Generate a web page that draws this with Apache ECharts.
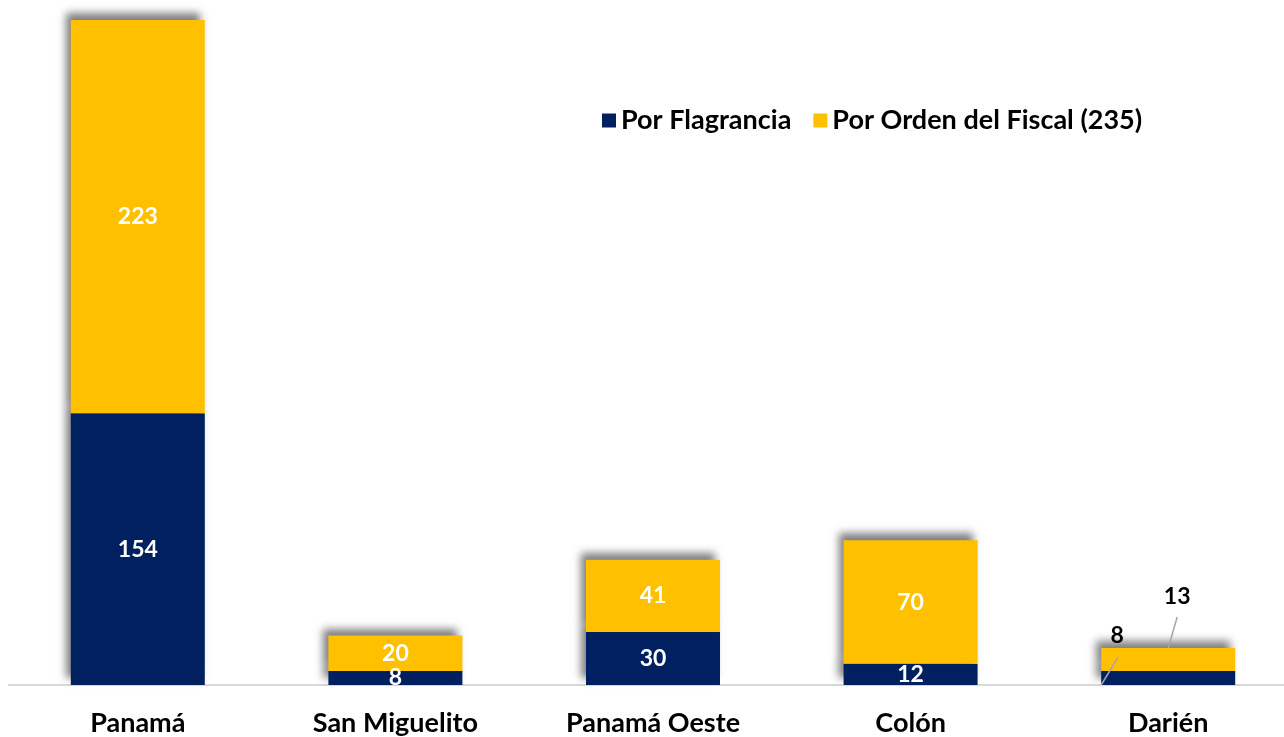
<!DOCTYPE html>
<html><head><meta charset="utf-8">
<script src="https://cdn.jsdelivr.net/npm/echarts@6/dist/echarts.min.js"></script>
<style>html,body{margin:0;padding:0;background:#fff;overflow:hidden}#c{width:1300px;height:737px}</style>
</head><body><div id="c"></div>
<script>
const categories = ['Panamá', 'San Miguelito', 'Panamá Oeste', 'Colón', 'Darién'];
const flagrancia = [154, 8, 30, 12, 8];
const ordenFiscal = [223, 20, 41, 70, 13];
const seriesNames = ['Por Flagrancia', 'Por Orden del Fiscal (235)'];

const FONT = 'Lato, "Open Sans", sans-serif';
const BAR_W = 134;
const chart = echarts.init(document.getElementById('c'));
const shadow = {shadowColor: 'rgba(0,0,0,0.5)', shadowBlur: 8, shadowOffsetX: -5, shadowOffsetY: -7};
const outsideIdx = 4;
function mk(vals) {
  return vals.map((v, i) => i !== outsideIdx ? v : {value: v, label: {color: '#000'}});
}
const lineStyle = {stroke: '#a6a6a6', lineWidth: 1.5};
chart.setOption({
  animation: false,
  legend: {
    left: 597, top: 102, itemWidth: 14, itemHeight: 14, itemGap: 22,
    icon: 'rect',
    textStyle: {fontFamily: FONT, fontWeight: 'bold', fontSize: 27, color: '#000'},
    data: seriesNames
  },
  grid: {left: 9, width: 1288, top: 20, bottom: 52, containLabel: false},
  xAxis: {
    type: 'category', data: categories,
    axisLine: {lineStyle: {color: '#d9d9d9', width: 2}},
    axisTick: {show: false},
    axisLabel: {fontFamily: FONT, fontWeight: 'bold', fontSize: 27, color: '#000', margin: 25}
  },
  yAxis: {type: 'value', min: 0, max: 377, show: false, splitLine: {show: false}},
  series: [
    {
      name: seriesNames[0], type: 'bar', stack: 't', barWidth: BAR_W,
      itemStyle: Object.assign({color: '#002060'}, shadow),
      label: {show: true, position: 'inside', color: '#fff', fontFamily: FONT, fontWeight: 'bold', fontSize: 23},
      labelLayout: function (p) {
        if (p.dataIndex !== outsideIdx) return {};
        const r = p.rect;
        return {x: r.x + 16, y: r.y - 35, align: 'center', verticalAlign: 'middle'};
      },
      data: mk(flagrancia)
    },
    {
      name: seriesNames[1], type: 'bar', stack: 't', barWidth: BAR_W,
      itemStyle: Object.assign({color: '#FFC000'}, shadow),
      label: {show: true, position: 'inside', color: '#fff', fontFamily: FONT, fontWeight: 'bold', fontSize: 23},
      labelLayout: function (p) {
        if (p.dataIndex !== outsideIdx) return {};
        const r = p.rect;
        return {x: r.x + 76, y: r.y - 51, align: 'center', verticalAlign: 'middle'};
      },
      data: mk(ordenFiscal)
    },
    {
      type: 'custom', silent: true, z: 5,
      data: [[outsideIdx, flagrancia[outsideIdx], flagrancia[outsideIdx] + ordenFiscal[outsideIdx]]],
      renderItem: function (params, api) {
        const idx = api.value(0);
        const base = api.coord([idx, 0]);
        const topBlue = api.coord([idx, api.value(1)]);
        const topAll = api.coord([idx, api.value(2)]);
        const left = base[0] - BAR_W / 2;
        return {type: 'group', children: [
          {type: 'line', shape: {x1: left, y1: base[1], x2: left + 17, y2: topBlue[1] - 14}, style: lineStyle},
          {type: 'line', shape: {x1: left + 67, y1: topAll[1], x2: left + 76, y2: topAll[1] - 31}, style: lineStyle}
        ]};
      }
    }
  ]
});
</script></body></html>
